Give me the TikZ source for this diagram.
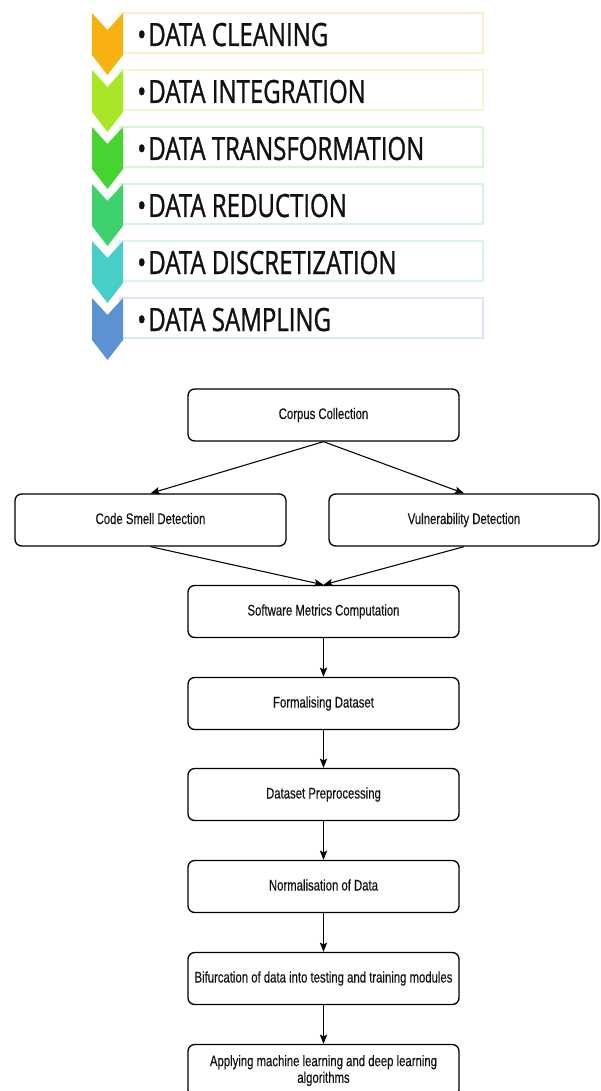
\documentclass[tikz,border=0pt]{standalone}
\usepackage{fontspec}
\usetikzlibrary{arrows.meta}
\newfontfamily\chevfont[FakeStretch=0.75,FakeBold=0.9]{Open Sans}
\newfontfamily\flowfont[FakeStretch=0.74,FakeBold=0.3]{Liberation Sans}
\definecolor{cA}{RGB}{247,178,18}
\definecolor{cB}{RGB}{170,230,40}
\definecolor{cC}{RGB}{72,212,48}
\definecolor{cD}{RGB}{62,210,110}
\definecolor{cE}{RGB}{72,206,200}
\definecolor{cF}{RGB}{92,146,210}
\definecolor{ink}{RGB}{17,17,17}
\tikzset{
  flowbox/.style={draw=black, line width=1pt, rounded corners=5pt, fill=white,
    minimum width=203.25pt, minimum height=39pt, inner sep=0pt, align=center,
    font=\flowfont\fontsize{11.5pt}{12.5pt}\selectfont, text=ink},
  oneline/.style={text height=8.2pt, text depth=2.2pt},
  chevtext/.style={anchor=base west, inner sep=0pt, text=ink,
    font=\chevfont\fontsize{24pt}{28pt}\selectfont},
  arr/.style={draw=black, line width=0.8pt, -{Stealth[length=7pt,width=5.5pt,inset=1.5pt]}}
}
\begin{document}
\begin{tikzpicture}[x=0.75pt,y=-0.75pt]
\fill[white] (0,0) rectangle (600,1091);
\useasboundingbox (0,0) rectangle (600,1091);
% --- chevron list ---
\foreach \c/\t [count=\i from 0] in {cA/DATA CLEANING,cB/DATA INTEGRATION,cC/DATA TRANSFORMATION,cD/DATA REDUCTION,cE/DATA DISCRETIZATION,cF/DATA SAMPLING} {
  \pgfmathsetmacro\yy{13+57*\i}
  \draw[draw=\c!22!white, line width=1.2pt, fill=white] (120,\yy) rectangle (483,\yy+40);
  \fill[\c] (92,\yy) -- (107.5,\yy+17) -- (123,\yy) -- (123,\yy+42) -- (107.5,\yy+62) -- (92,\yy+42) -- cycle;
  \node[chevtext] (t\i) at (137,\yy+33) {•\kern1.5pt\t};
}
% --- flowchart ---
\node[flowbox, oneline] (cc) at (323.5,415) {Corpus Collection};
\node[flowbox, oneline] (cs) at (150.5,520) {Code Smell Detection};
\node[flowbox, oneline, minimum width=202.5pt] (vd) at (464,520) {Vulnerability Detection};
\node[flowbox, oneline] (sw) at (323.5,611.5) {Software Metrics Computation};
\node[flowbox, oneline] (fd) at (323.5,703.5) {Formalising Dataset};
\node[flowbox, oneline] (dp) at (323.5,794.5) {Dataset Preprocessing};
\node[flowbox, oneline] (nd) at (323.5,886.5) {Normalisation of Data};
\node[flowbox, oneline] (bf) at (323.5,978.5) {Bifurcation of data into testing and training modules};
\node[flowbox] (ap) at (323.5,1070.5) {Applying machine learning and deep learning\\algorithms};
\draw[arr] (cc.south) -- (cs.north);
\draw[arr] (cc.south) -- (vd.north);
\draw[arr] (cs.south) -- (sw.north);
\draw[arr] (vd.south) -- (sw.north);
\draw[arr] (sw) -- (fd);
\draw[arr] (fd) -- (dp);
\draw[arr] (dp) -- (nd);
\draw[arr] (nd) -- (bf);
\draw[arr] (bf) -- (ap);
\end{tikzpicture}
\end{document}
